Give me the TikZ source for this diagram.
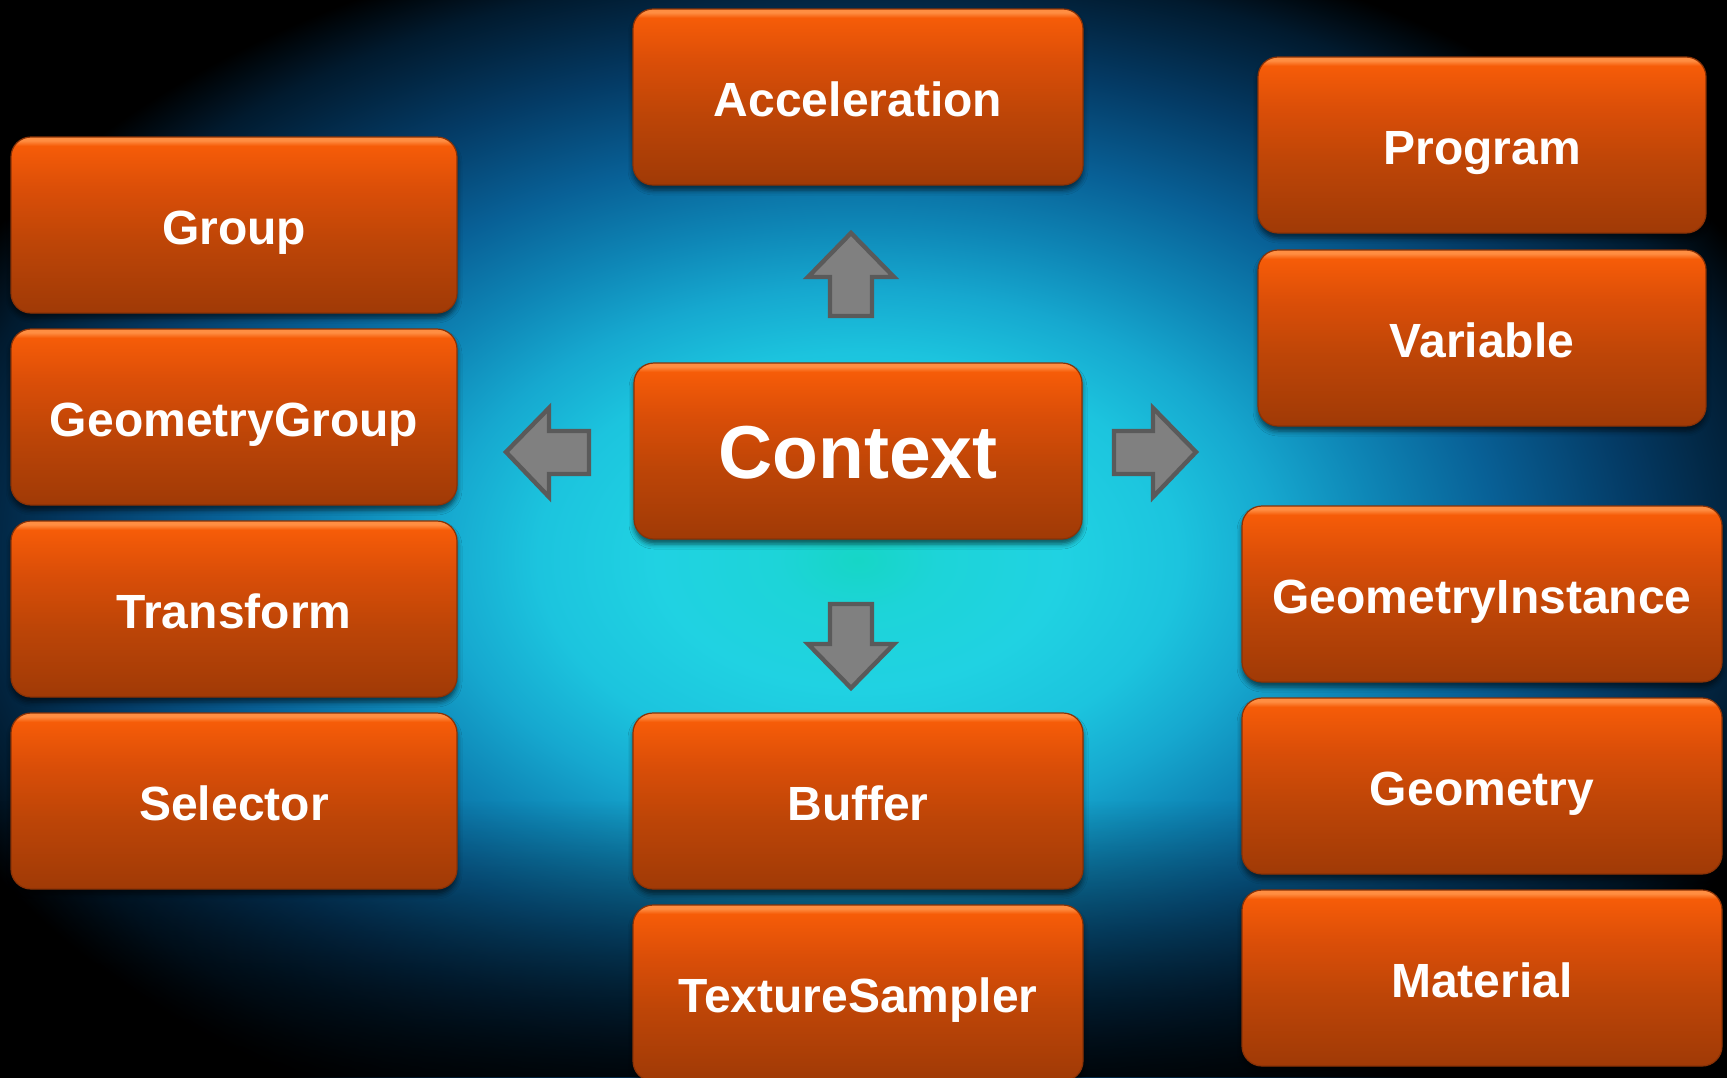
\documentclass[tikz,border=0pt]{standalone}
\usepackage{fontspec}
\setmainfont{Liberation Sans}
\usetikzlibrary{shadows.blur,fadings}

% box colours
\definecolor{boxhi}{HTML}{FF8E42}
\definecolor{boxtop}{HTML}{F65C08}
\definecolor{boxmid}{HTML}{DA4E08}
\definecolor{boxlow}{HTML}{BD4507}
\definecolor{boxbot}{HTML}{A03A06}
\definecolor{boxedge}{HTML}{8A3206}
% arrow colours
\definecolor{arrowfill}{HTML}{808080}
\definecolor{arrowedge}{HTML}{5A5A5A}
% background glow colours
\definecolor{g0}{HTML}{16D6C6}
\definecolor{g1}{HTML}{1DD4D8}
\definecolor{g2}{HTML}{20D2E2}
\definecolor{g3}{HTML}{1CC4DE}
\definecolor{g4}{HTML}{16A8CF}
\definecolor{g5}{HTML}{0E86B6}
\definecolor{g6}{HTML}{086096}
\definecolor{g7}{HTML}{043A64}
\definecolor{g8}{HTML}{011A2E}

\pgfdeclareverticalshading{boxfill}{100bp}{color(0bp)=(boxbot); color(25bp)=(boxbot); color(45bp)=(boxlow); color(60bp)=(boxmid); color(72.5bp)=(boxtop); color(74bp)=(boxhi); color(75bp)=(boxhi); color(100bp)=(boxhi)}

\pgfdeclareradialshading{glow}{\pgfpoint{0bp}{-0.6bp}}{color(0bp)=(g0); color(2bp)=(g1); color(5bp)=(g2); color(8bp)=(g3); color(10.5bp)=(g4); color(13bp)=(g5); color(16bp)=(g6); color(19.5bp)=(g7); color(23bp)=(g8); color(25bp)=(black); color(50bp)=(black)}

\tikzfading[name=fadebottom, top color=transparent!100, bottom color=transparent!0]

\tikzset{
  box/.style={shade, shading=boxfill, rounded corners=10pt, draw=boxedge, line width=0.6pt,
    minimum width=224pt, minimum height=88pt, inner sep=0pt,
    text=white, font=\bfseries\fontsize{24}{28}\selectfont,
    text height=19.6pt, text depth=0pt,
    blur shadow={shadow xshift=0pt, shadow yshift=-2.5pt, shadow opacity=60, shadow blur radius=2.5pt}},
  widebox/.style={box, minimum width=240pt},
  bigbox/.style={box, font=\bfseries\fontsize{37.5}{42}\selectfont, text height=27.5pt},
  blockarrow/.style={fill=arrowfill, draw=arrowedge, line width=2.2pt, line join=miter}
}

\begin{document}
\begin{tikzpicture}[x=0.5pt, y=-0.5pt]
  \useasboundingbox (0,0) rectangle (1727,1077);
  \clip (0,0) rectangle (1727,1077);

  % background: black with an elliptical cyan glow, darker towards the bottom
  \fill[black] (0,0) rectangle (1727,1077);
  \shade[shading=glow] (-142,-95) rectangle (1858,1185);
  \fill[black, opacity=0.85, path fading=fadebottom] (0,800) rectangle (1727,1077);

  % centre
  \node[bigbox] (context) at (858,451) {Context};

  % top and bottom of the centre column
  \node[box, minimum width=225pt] (accel)   at (858,97)  {Acceleration};
  \node[box, minimum width=225pt] (buffer)  at (858,801) {Buffer};
  \node[box, minimum width=225pt] (texsamp) at (858,993) {TextureSampler};

  % left column
  \node[box, minimum width=223pt] (group)     at (234,225) {Group};
  \node[box, minimum width=223pt] (geomgroup) at (234,417) {GeometryGroup};
  \node[box, minimum width=223pt] (transform) at (234,609) {Transform};
  \node[box, minimum width=223pt] (selector)  at (234,801) {Selector};

  % right column
  \node[box] (program)  at (1482,145) {Program};
  \node[box] (variable) at (1482,338) {Variable};
  \node[widebox] (geominst) at (1482,594) {GeometryInstance};
  \node[widebox] (geometry) at (1482,786) {Geometry};
  \node[widebox] (material) at (1482,978) {Material};

  % block arrows pointing out of the context
  \draw[blockarrow] (851,233) -- (894,277) -- (872,277) -- (872,316) -- (830,316)
        -- (830,277) -- (808,277) -- cycle;
  \draw[blockarrow] (830,604) -- (872,604) -- (872,644) -- (894,644) -- (851,688)
        -- (808,644) -- (830,644) -- cycle;
  \draw[blockarrow] (506,452) -- (549,408) -- (549,431) -- (589,431) -- (589,474)
        -- (549,474) -- (549,497) -- cycle;
  \draw[blockarrow] (1114,431) -- (1153,431) -- (1153,408) -- (1196,452) -- (1153,497)
        -- (1153,474) -- (1114,474) -- cycle;
\end{tikzpicture}
\end{document}
